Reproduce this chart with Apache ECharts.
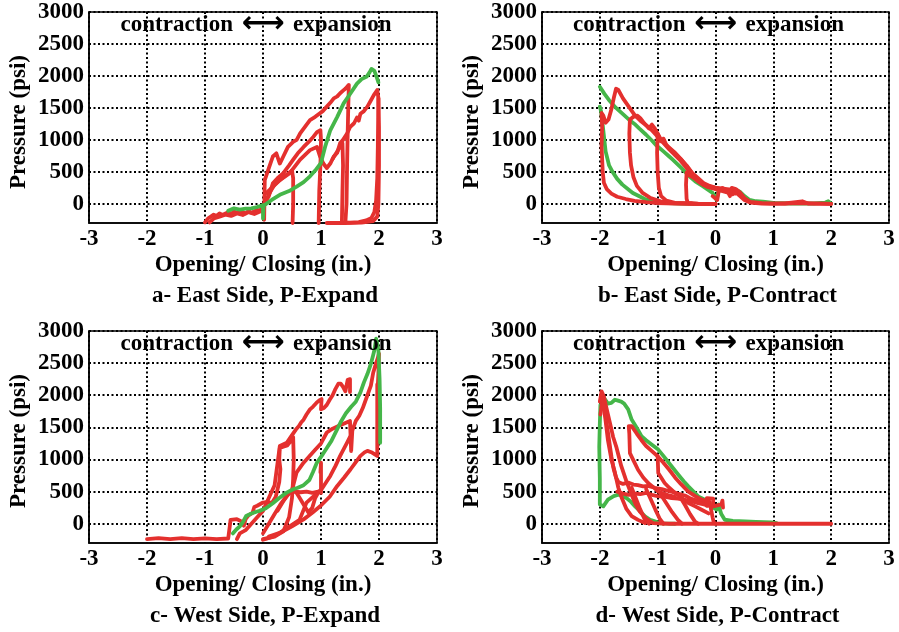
<!DOCTYPE html>
<html><head><meta charset="utf-8">
<script src="https://cdn.jsdelivr.net/npm/echarts@6/dist/echarts.min.js"></script>
<style>html,body{margin:0;padding:0;background:#fff}#c{width:899px;height:632px}</style>
</head><body><div id="c"></div>
<script>
// ---------- text / ticks ----------
const xTicks = [-3, -2, -1, 0, 1, 2, 3];
const yTicks = [0, 500, 1000, 1500, 2000, 2500, 3000];
const panelTitles = ['a- East Side, P-Expand', 'b- East Side, P-Contract', 'c- West Side, P-Expand', 'd- West Side, P-Contract'];
const xName = 'Opening/ Closing (in.)';
const yName = 'Pressure (psi)';
const noteLeft = 'contraction';
const noteArrow = '\u27F7';
const noteRight = 'expansion';

// ---------- panel a : East Side, P-Expand ----------
const aRed1 = [[-1.0,-290],[-0.95,-230],[-0.9,-200],[-0.85,-170],[-0.8,-190],[-0.75,-150],[-0.7,-175],[-0.6,-130],[-0.55,-160],[-0.5,-120],[-0.45,-145],[-0.4,-110],[-0.3,-150],[-0.25,-110],[-0.2,-140],[-0.1,-95],[-0.05,-110],[0.0,-40],[0.02,-250],[0.03,370],[0.09,530],[0.17,740],[0.23,790],[0.29,630],[0.35,740],[0.43,890],[0.52,970],[0.58,1000],[0.64,1100],[0.72,1200],[0.81,1310],[0.9,1360],[0.97,1410],[1.03,1450],[1.1,1520],[1.16,1580],[1.22,1650],[1.28,1680],[1.33,1730],[1.38,1770],[1.42,1800],[1.48,1860],[1.47,1500],[1.46,1100],[1.45,600],[1.44,0],[1.42,-300]];
const aRed2 = [[-0.92,-290],[-0.85,-230],[-0.75,-200],[-0.65,-170],[-0.55,-190],[-0.45,-150],[-0.35,-175],[-0.25,-130],[-0.15,-160],[-0.05,-120],[0.0,-60],[0.1,150],[0.2,300],[0.3,380],[0.4,450],[0.5,520],[0.52,400],[0.52,0],[0.51,-300]];
const aRed3 = [[0.0,-30],[0.1,120],[0.17,320],[0.25,400],[0.35,480],[0.45,600],[0.52,690],[0.6,790],[0.7,890],[0.8,980],[0.87,1050],[0.93,1120],[0.99,1150],[1.0,1000],[0.99,600],[0.97,200],[0.96,-300]];
const aRed4 = [[0.06,170],[0.29,370],[0.46,480],[0.64,690],[0.81,840],[0.93,890],[0.98,750],[1.04,630],[1.1,560],[1.13,540],[1.16,630],[1.22,740],[1.28,800],[1.33,950],[1.38,1000],[1.45,1100],[1.5,1200],[1.57,1260],[1.62,1350],[1.65,1300],[1.68,1410],[1.74,1450],[1.8,1520],[1.85,1600],[1.91,1700],[1.97,1780],[1.99,1650],[2.0,1200],[2.0,600],[1.99,0],[1.97,-200],[1.9,-270],[1.7,-295],[1.4,-300],[1.1,-300]];
const aRed5 = [[1.35,-290],[1.5,-295],[1.65,-285],[1.78,-260],[1.87,-220],[1.92,-130],[1.95,50],[1.97,400],[1.98,900],[1.99,1650]];
const aRed6 = [[1.2,700],[1.28,820],[1.37,950],[1.38,600],[1.37,200],[1.36,-300]];
const aGreen = [[-0.6,-110],[-0.5,-70],[-0.4,-90],[-0.3,-75],[-0.2,-70],[-0.1,-50],[0.0,-20],[0.0,-230],[0.01,-30],[0.15,60],[0.29,140],[0.45,200],[0.58,270],[0.7,340],[0.81,430],[0.9,520],[1.0,640],[1.07,890],[1.16,1150],[1.28,1360],[1.39,1570],[1.51,1730],[1.62,1880],[1.7,1950],[1.79,1990],[1.84,2060],[1.87,2110],[1.92,2080],[1.96,1980],[1.99,1900]];

// ---------- panel b : East Side, P-Contract ----------
const bGreen1 = [[-2.0,1830],[-1.92,1720],[-1.84,1620],[-1.72,1500],[-1.61,1410],[-1.5,1320],[-1.4,1250],[-1.32,1180],[-1.2,1080],[-1.1,990],[-1.03,920],[-0.9,820],[-0.8,740],[-0.74,690],[-0.6,570],[-0.45,430],[-0.35,350],[-0.22,275],[-0.1,200],[-0.05,170],[0.0,100],[0.02,60],[0.05,200],[0.13,220],[0.25,210],[0.35,220],[0.42,190],[0.5,120],[0.59,60],[0.7,40],[0.82,35],[1.0,15],[1.3,5],[1.7,5],[1.9,20],[1.95,40],[2.0,5]];
const bGreen2 = [[-2.0,1520],[-1.98,1450],[-1.95,1230],[-1.9,820],[-1.84,600],[-1.78,500],[-1.7,390],[-1.61,300],[-1.5,220],[-1.43,170],[-1.3,110],[-1.2,65],[-1.05,30],[-0.91,15],[-0.6,5],[-0.3,0]];
const bRed1 = [[-1.97,1400],[-1.96,1200],[-1.97,900],[-1.96,700],[-1.95,500],[-1.93,330],[-1.88,230],[-1.8,160],[-1.7,110],[-1.55,75],[-1.4,45],[-1.2,25],[-1.0,12],[-0.7,5],[-0.3,0],[0.0,0]];
const bRed2 = [[2.0,0],[1.5,10],[1.0,0],[0.8,5],[0.6,20],[0.5,60],[0.4,140],[0.35,200],[0.3,150],[0.27,220],[0.2,230],[0.1,240],[0.0,250],[-0.1,260],[-0.2,290],[-0.3,350],[-0.4,450],[-0.5,560],[-0.6,670],[-0.7,760],[-0.8,850],[-0.9,950],[-1.0,1050],[-1.1,1150],[-1.2,1230],[-1.3,1300],[-1.4,1390],[-1.5,1520],[-1.6,1650],[-1.68,1780],[-1.72,1800],[-1.76,1650],[-1.8,1480],[-1.85,1320],[-1.9,1270],[-1.94,1380],[-1.97,1420]];
const bRed3 = [[0.3,190],[0.1,230],[-0.1,270],[-0.2,300],[-0.3,360],[-0.4,470],[-0.5,590],[-0.6,700],[-0.7,790],[-0.8,870],[-0.85,920],[-0.9,1020],[-0.95,980],[-1.0,1090],[-1.05,1180],[-1.1,1240],[-1.15,1180],[-1.2,1230],[-1.25,1280],[-1.3,1340],[-1.35,1380],[-1.42,1360],[-1.48,1320],[-1.49,1100],[-1.48,800],[-1.46,600],[-1.42,420],[-1.36,280],[-1.26,170],[-1.12,90],[-0.95,40],[-0.75,12],[-0.4,2],[0.0,0]];
const bRed4 = [[0.35,160],[0.2,200],[0.05,240],[-0.1,280],[-0.2,320],[-0.3,400],[-0.4,480],[-0.5,600],[-0.6,700],[-0.7,800],[-0.8,880],[-0.9,960],[-0.96,1030],[-1.0,1100],[-1.02,1080],[-1.01,800],[-1.0,500],[-0.98,250],[-0.94,120],[-0.85,50],[-0.7,15],[-0.4,3],[0.0,0]];
const bRed5 = [[0.2,180],[0.0,230],[-0.15,270],[-0.25,320],[-0.35,390],[-0.45,450],[-0.5,490],[-0.51,300],[-0.5,80],[-0.48,15],[-0.3,2],[0.0,0]];
const bRed6 = [[-0.05,120],[0.03,60],[0.06,220],[0.12,250],[0.2,210],[0.25,120],[0.28,250],[0.35,230],[0.42,180],[0.5,90],[0.6,30],[0.8,10],[1.2,5],[1.5,40],[1.6,5],[2.0,0]];

// ---------- panel c : West Side, P-Expand ----------
const cRed1 = [[-2.0,-240],[-1.8,-225],[-1.6,-240],[-1.4,-225],[-1.2,-240],[-1.0,-228],[-0.8,-240],[-0.6,-230],[-0.57,-230],[-0.57,-20],[-0.56,60],[-0.45,70],[-0.38,40],[-0.33,-30],[-0.3,70],[-0.25,130],[-0.18,170],[-0.15,260],[-0.1,280],[0.0,330],[0.08,340],[0.15,320],[0.22,420],[0.28,650],[0.3,850],[0.28,1000],[0.29,1180],[0.35,1200],[0.42,1220],[0.47,1280],[0.52,1350],[0.55,1320],[0.53,1000],[0.52,700],[0.5,400],[0.45,100],[0.35,-120],[0.2,-200],[0.0,-240]];
const cRed2 = [[-0.45,-240],[-0.4,-150],[-0.3,-100],[-0.2,0],[-0.1,100],[0.0,200],[0.1,400],[0.2,600],[0.29,1210],[0.41,1260],[0.5,1380],[0.57,1470],[0.62,1520],[0.66,1580],[0.7,1620],[0.75,1700],[0.81,1780],[0.86,1820],[0.92,1880],[0.97,1920],[1.01,1940],[1.0,1780],[1.05,1800],[1.1,1850],[1.15,1930],[1.2,2000],[1.25,2100],[1.3,2180],[1.34,2180],[1.38,2130],[1.42,2060],[1.46,2240],[1.5,2250],[1.5,2050]];
const cRed3 = [[0.0,-150],[0.1,0],[0.2,150],[0.3,300],[0.4,420],[0.5,520],[0.58,800],[0.7,950],[0.8,1050],[0.9,1150],[1.0,1250],[1.1,1420],[1.2,1480],[1.3,1520],[1.4,1560],[1.45,1580],[1.5,1600],[1.52,1130],[1.54,1450],[1.6,1600],[1.66,1680],[1.72,1800],[1.8,2000],[1.86,2150],[1.9,2350],[1.95,2500],[1.98,2580],[2.0,2650],[1.99,2350],[1.98,2150]];
const cRed4 = [[0.0,-250],[0.17,-200],[0.35,-114],[0.5,-40],[0.7,68],[0.85,170],[0.99,276],[1.15,420],[1.28,588],[1.4,720],[1.51,848],[1.6,960],[1.68,1056],[1.75,1110],[1.8,1134],[1.88,1108],[1.97,1056],[1.97,1400],[1.97,1800],[1.97,2170]];
const cRed5 = [[0.25,200],[0.35,350],[0.45,480],[0.55,500],[0.65,490],[0.75,500],[0.85,480],[0.95,500],[1.0,480],[1.0,950],[0.99,800]];
const cRed6 = [[0.1,-200],[0.29,-140],[0.46,-40],[0.63,60],[0.75,328],[0.9,450],[1.01,536],[1.16,744],[1.25,900],[1.33,1056],[1.45,1264],[1.5,1350]];
const cRed7 = [[0.55,520],[0.62,420],[0.7,300],[0.78,180],[0.85,250],[0.9,400],[0.95,480]];
const cGreen = [[-0.52,-150],[-0.46,-90],[-0.4,-40],[-0.35,20],[-0.29,120],[-0.2,160],[-0.1,190],[-0.06,200],[0.05,240],[0.17,320],[0.28,400],[0.4,480],[0.52,536],[0.6,560],[0.7,600],[0.8,680],[0.86,800],[0.93,952],[1.03,1080],[1.1,1180],[1.18,1290],[1.28,1472],[1.35,1600],[1.43,1720],[1.52,1820],[1.6,1900],[1.68,2044],[1.74,2200],[1.8,2330],[1.85,2460],[1.89,2590],[1.92,2700],[1.95,2880],[1.97,2800],[1.99,2700],[2.01,2250],[2.02,1800],[2.02,1260]];

// ---------- panel d : West Side, P-Contract ----------
const dGreen1 = [[1.06,10],[0.97,20],[0.7,30],[0.51,36],[0.3,45],[0.16,62],[0.1,150],[0.05,300],[0.02,220],[-0.07,270],[-0.13,348],[-0.22,390],[-0.3,426],[-0.38,500],[-0.47,582],[-0.55,660],[-0.65,770],[-0.76,894],[-0.87,1020],[-0.99,1154],[-1.1,1230],[-1.2,1300],[-1.28,1362],[-1.36,1490],[-1.45,1622],[-1.51,1780],[-1.58,1870],[-1.63,1900],[-1.7,1920],[-1.74,1930],[-1.8,1880],[-1.86,1870],[-1.92,1950],[-1.97,2000]];
const dGreen2 = [[-1.99,1850],[-2.0,1560],[-2.01,1200],[-2.0,700],[-2.0,300],[-1.94,270],[-1.86,374],[-1.76,430],[-1.68,452],[-1.6,430],[-1.54,400],[-1.46,340],[-1.39,270],[-1.3,190],[-1.22,114],[-1.13,60],[-1.05,36],[-0.95,5],[-0.7,0]];
const dRed1 = [[-2.0,1900],[-1.97,2060],[-1.93,1980],[-1.89,1820],[-1.82,1550],[-1.77,1350],[-1.71,1180],[-1.63,900],[-1.54,660],[-1.45,450],[-1.38,300],[-1.31,190],[-1.2,80],[-1.08,10],[-0.8,0],[0.0,0],[1.0,0],[2.0,0]];
const dRed2 = [[-1.99,1700],[-1.96,1900],[-1.92,1800],[-1.88,1550],[-1.84,1300],[-1.8,1050],[-1.76,850],[-1.72,720],[-1.68,650],[-1.6,620],[-1.51,640],[-1.42,610],[-1.34,600],[-1.25,580],[-1.17,590],[-1.05,560],[-0.93,540],[-0.85,520],[-0.76,500],[-0.65,470],[-0.53,440],[-0.45,400],[-0.36,370],[-0.25,350],[-0.18,340],[-0.1,330],[-0.07,320],[-0.05,100],[-0.03,20],[0.0,0]];
const dRed3 = [[-0.1,340],[-0.24,374],[-0.35,430],[-0.47,500],[-0.6,620],[-0.7,720],[-0.8,840],[-0.9,950],[-1.0,1050],[-1.1,1130],[-1.2,1210],[-1.28,1300],[-1.36,1400],[-1.45,1520],[-1.5,1520],[-1.49,1400],[-1.48,1100],[-1.4,950],[-1.34,840],[-1.25,720],[-1.16,630],[-1.05,550],[-0.99,500],[-0.9,470],[-0.8,440],[-0.7,420]];
const dRed4 = [[-1.0,1050],[-0.99,790],[-0.88,634],[-0.8,560],[-0.7,478],[-0.58,400],[-0.47,322],[-0.35,270],[-0.24,218],[-0.12,160]];
const dRed5 = [[-1.45,560],[-1.38,400],[-1.3,220],[-1.22,60],[-1.15,0]];
const dRed6 = [[-1.2,540],[-1.12,380],[-1.04,220],[-0.96,70],[-0.9,0]];
const dRed7 = [[-0.95,460],[-0.85,320],[-0.75,180],[-0.65,60],[-0.58,0]];
const dRed8 = [[-0.6,400],[-0.52,280],[-0.44,150],[-0.36,40],[-0.3,0]];
const dRed9 = [[-0.15,280],[-0.15,400],[-0.04,390],[-0.04,270],[0.1,300],[0.12,360],[0.13,250]];
const dRed10 = [[-1.95,1950],[-1.9,1600],[-1.86,1300],[-1.8,1000],[-1.74,800],[-1.68,560],[-1.62,400],[-1.54,230],[-1.45,120],[-1.34,60],[-1.22,10]];
const dRed11 = [[-1.7,500],[-1.6,470],[-1.5,450],[-1.4,470],[-1.3,460],[-1.2,480],[-1.1,450],[-1.0,430],[-0.88,420],[-0.76,400],[-0.65,390],[-0.53,370],[-0.42,350],[-0.3,320],[-0.2,300],[-0.13,280]];

// ---------- layout & styles ----------
const RED = '#e4302e', GREEN = '#45b649';
const layout = [
  {left: 89, top: 12, width: 348, height: 211},
  {left: 542, top: 12, width: 347, height: 211},
  {left: 89, top: 331, width: 348, height: 212},
  {left: 542, top: 331, width: 347, height: 212}
];
const panelSeries = [
  [[aRed1,RED],[aRed2,RED],[aRed3,RED],[aRed4,RED],[aRed5,RED],[aRed6,RED],[aGreen,GREEN]],
  [[bGreen1,GREEN],[bGreen2,GREEN],[bRed1,RED],[bRed2,RED],[bRed3,RED],[bRed4,RED],[bRed5,RED],[bRed6,RED]],
  [[cRed1,RED],[cRed2,RED],[cRed3,RED],[cRed4,RED],[cRed5,RED],[cRed6,RED],[cRed7,RED],[cGreen,GREEN]],
  [[dGreen1,GREEN],[dGreen2,GREEN],[dRed1,RED],[dRed2,RED],[dRed3,RED],[dRed4,RED],[dRed5,RED],[dRed6,RED],[dRed7,RED],[dRed8,RED],[dRed9,RED],[dRed10,RED],[dRed11,RED]]
];
const FONT = 'Liberation Serif';
const FS = 23;
const textStyleBase = {color: '#000', fontFamily: FONT, fontWeight: 'bold', fontSize: FS};
const splitStyle = {show: true, lineStyle: {color: '#000', width: 2, type: [2, 2.5]}};

const grid = [], xAxis = [], yAxis = [], series = [], graphic = [];
layout.forEach((g, i) => {
  grid.push(Object.assign({show: true, borderColor: '#000', borderWidth: 1.5, backgroundColor: 'transparent'}, g));
  xAxis.push({
    type: 'value', gridIndex: i, min: xTicks[0], max: xTicks[xTicks.length - 1], interval: 1,
    axisLine: {show: true, onZero: false, lineStyle: {color: '#000', width: 1.5}},
    axisTick: {show: false},
    axisLabel: Object.assign({margin: 5, formatter: v => String(v)}, textStyleBase),
    splitLine: splitStyle
  });
  yAxis.push({
    type: 'value', gridIndex: i, min: -300, max: 3000,
    axisLine: {show: true, onZero: false, lineStyle: {color: '#000', width: 1.5}},
    axisTick: {show: false, customValues: yTicks},
    axisLabel: Object.assign({margin: 5, customValues: yTicks, formatter: v => String(v)}, textStyleBase),
    splitLine: splitStyle
  });
  panelSeries[i].forEach(([d, c]) => {
    series.push({
      type: 'line', xAxisIndex: i, yAxisIndex: i, data: d, showSymbol: false, symbol: 'none',
      animation: false, clip: true,
      lineStyle: {color: c, width: 3.8, cap: 'round', join: 'round'}
    });
  });
  const cx = g.left + g.width / 2;
  const bottom = g.top + g.height;
  const font = 'bold ' + FS + 'px "' + FONT + '"';
  const ny = g.top + 13;
  graphic.push({type: 'text', x: cx - 30, y: ny, z: 100,
    style: {text: noteLeft, font: font, fill: '#000', align: 'right', verticalAlign: 'middle'}});
  graphic.push({type: 'text', x: cx, y: ny - 1, z: 100,
    style: {text: noteArrow, font: 'bold 30px "DejaVu Sans"', fill: '#000', align: 'center', verticalAlign: 'middle'}});
  graphic.push({type: 'text', x: cx + 30, y: ny, z: 100,
    style: {text: noteRight, font: font, fill: '#000', align: 'left', verticalAlign: 'middle'}});
  graphic.push({type: 'text', x: cx, y: bottom + 42, z: 100,
    style: {text: xName, font: font, fill: '#000', align: 'center', verticalAlign: 'middle'}});
  graphic.push({type: 'text', x: cx + 2, y: bottom + 73, z: 100,
    style: {text: panelTitles[i], font: font, fill: '#000', align: 'center', verticalAlign: 'middle'}});
  graphic.push({type: 'text', x: g.left - 70, y: g.top + 110, rotation: Math.PI / 2, z: 100,
    style: {text: yName, font: font, fill: '#000', align: 'center', verticalAlign: 'middle'}});
});

const chart = echarts.init(document.getElementById('c'), null, {renderer: 'canvas'});
chart.setOption({animation: false, grid, xAxis, yAxis, series, graphic});
</script>
</body></html>
